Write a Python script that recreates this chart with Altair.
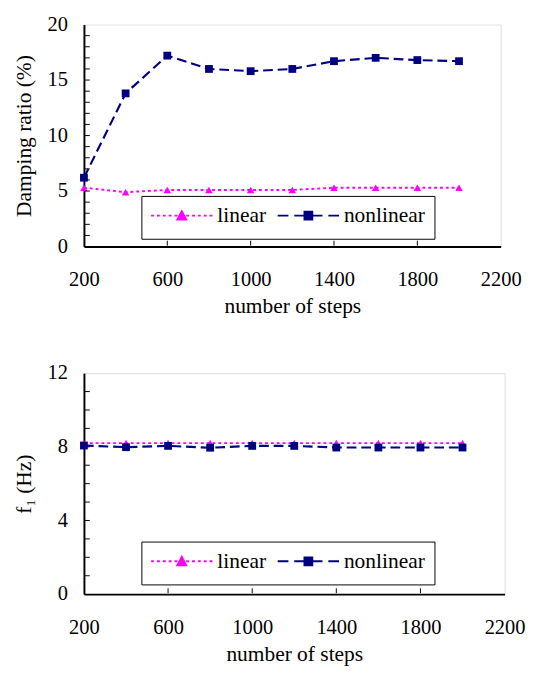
import altair as alt
import pandas as pd

steps = [200, 400, 600, 800, 1000, 1200, 1400, 1600, 1800, 2000]
damping_linear = [5.3, 4.9, 5.1, 5.1, 5.1, 5.1, 5.3, 5.3, 5.3, 5.3]
damping_nonlinear = [6.2, 13.8, 17.2, 16.0, 15.8, 16.0, 16.7, 17.0, 16.8, 16.7]
freq_linear = [8.2, 8.2, 8.2, 8.2, 8.2, 8.2, 8.2, 8.2, 8.2, 8.2]
freq_nonlinear = [8.07, 7.98, 8.05, 7.95, 8.05, 8.05, 7.96, 7.96, 7.96, 7.96]
series_names = ["linear", "nonlinear"]

x_label_values = [200, 600, 1000, 1400, 1800, 2200]
x_inner_ticks = [600, 1000, 1400, 1800]
top_y_labels = [0, 5, 10, 15, 20]
top_y_ticks = [1, 2, 3, 4, 5, 6, 7, 8, 9, 10, 11, 12, 13, 14, 15, 16, 17, 18, 19]
bottom_y_labels = [0, 4, 8, 12]
bottom_y_ticks = [1, 2, 3, 4, 5, 6, 7, 8, 9, 10, 11]

MAGENTA = "#FF00FF"
NAVY = "#000080"
FONT = "Liberation Serif"


def px(v):
    return round((v - 10) / 10.0, 3)


def legend_path(segments, marker):
    # invisible move-to points give the legend row its full text height
    parts = [f"M{px(31)},-1.05M{px(31)},1.05"]
    for a, b in segments:
        parts.append(f"M{px(a)},0L{px(b)},0")
    parts.append("M" + "L".join(f"{px(x)},{round(y / 10.0, 3)}" for x, y in marker) + "Z")
    return "".join(parts)


linear_symbol = legend_path(
    [(0, 3), (6, 9), (12, 15), (18, 21), (24, 27), (36, 39), (42, 45), (48, 51), (54, 57), (60, 63)],
    [(31.5, -4.5), (36, 4), (27, 4)],
)
nonlinear_symbol = legend_path(
    [(0, 11), (17, 28), (35, 46), (52, 63)],
    [(27.5, -4), (35.5, -4), (35.5, 4), (27.5, 4)],
)


def make_df(lin, nonlin):
    rows = []
    for s, v in zip(steps, lin):
        rows.append({"steps": s, "value": v, "series": "linear"})
    for s, v in zip(steps, nonlin):
        rows.append({"steps": s, "value": v, "series": "nonlinear"})
    return pd.DataFrame(rows)


def panel(lin, nonlin, ytitle, ymax, ylabels, yticks, w, h, legend_y):
    df = make_df(lin, nonlin)
    base = alt.Chart(df)
    xs = alt.Scale(domain=[200, 2200], nice=False, zero=False)
    ys = alt.Scale(domain=[0, ymax], nice=False)

    x_main = alt.X("steps:Q", scale=xs, axis=alt.Axis(
        orient="bottom", values=x_label_values, tickSize=0, labelPadding=23, format="d",
        title="number of steps", titlePadding=7, grid=False,
        labelFont=FONT, labelFontSize=21, labelColor="black",
        titleFont=FONT, titleFontSize=22, titleFontWeight="normal", titleColor="black",
        domainColor="black", domainWidth=2, labelOverlap=False, labelFlush=False))
    y_main = alt.Y("value:Q", scale=ys, axis=alt.Axis(
        orient="left", values=ylabels, tickSize=0, labelPadding=17,
        title=ytitle, titlePadding=12, grid=False,
        labelFont=FONT, labelFontSize=21, labelColor="black",
        titleFont=FONT, titleFontSize=22, titleFontWeight="normal", titleColor="black",
        domainColor="black", domainWidth=2, labelOverlap=False))

    x_plain = alt.X("steps:Q", scale=xs)
    y_plain = alt.Y("value:Q", scale=ys)

    # inward tick marks along the left and bottom axes
    ytick_df = pd.DataFrame({"t": yticks})
    xtick_df = pd.DataFrame({"t": x_inner_ticks})
    yticks_layer = alt.Chart(ytick_df).mark_rule(color="black", strokeWidth=1).encode(
        y=alt.Y("t:Q", scale=ys), x=alt.value(1), x2=alt.value(6))
    xticks_layer = alt.Chart(xtick_df).mark_rule(color="black", strokeWidth=1).encode(
        x=alt.X("t:Q", scale=xs), y=alt.value(h - 1), y2=alt.value(h - 6))

    line_lin = base.transform_filter(alt.datum.series == "linear").mark_line(
        color=MAGENTA, strokeDash=[3, 3], strokeWidth=2).encode(x=x_plain, y=y_plain)
    line_non = base.transform_filter(alt.datum.series == "nonlinear").mark_line(
        color=NAVY, strokeDash=[10, 5], strokeWidth=2.2).encode(x=x_plain, y=y_plain)
    pts_lin = base.transform_filter(alt.datum.series == "linear").mark_point(
        shape="triangle-up", filled=True, color=MAGENTA, size=60, opacity=1).encode(x=x_main, y=y_main)
    pts_non = base.transform_filter(alt.datum.series == "nonlinear").mark_point(
        shape="square", filled=True, color=NAVY, size=64, opacity=1).encode(x=x_plain, y=y_plain)

    leg = alt.Legend(
        title=None, orient="none", legendX=59, legendY=legend_y, direction="horizontal",
        columns=2, strokeColor="black", fillColor="white", padding=9,
        symbolSize=400, symbolStrokeWidth=2, symbolOpacity=1,
        labelFont=FONT, labelFontSize=22, labelColor="black", labelOffset=47,
        columnPadding=7,
    )
    legend_layer = base.mark_point(filled=True, opacity=0, size=1).encode(
        x=x_plain, y=y_plain,
        color=alt.Color("series:N", scale=alt.Scale(domain=series_names, range=[MAGENTA, NAVY]), legend=leg),
        stroke=alt.Stroke("series:N", scale=alt.Scale(domain=series_names, range=[MAGENTA, NAVY]), legend=leg),
        shape=alt.Shape("series:N", scale=alt.Scale(domain=series_names, range=[linear_symbol, nonlinear_symbol]), legend=leg),
    )

    return alt.layer(pts_lin, yticks_layer, xticks_layer, line_lin, line_non, pts_non,
                     legend_layer).properties(width=w, height=h)


top = panel(damping_linear, damping_nonlinear, "Damping ratio (%)", 20, top_y_labels, top_y_ticks, 428, 228, 176)
bottom = panel(freq_linear, freq_nonlinear, "f\u2081 (Hz)", 12, bottom_y_labels, bottom_y_ticks, 432, 227, 173)

chart = alt.vconcat(top, bottom, spacing=45).resolve_scale(
    color="independent", shape="independent", stroke="independent"
).resolve_legend(
    color="independent", shape="independent", stroke="independent"
).configure_view(stroke="black", strokeWidth=1).configure(
    padding={"left": 4, "top": -4, "right": 0, "bottom": 0},
    background="white",
)

chart.save("out.html", embed_options={"renderer": "svg", "actions": False})
